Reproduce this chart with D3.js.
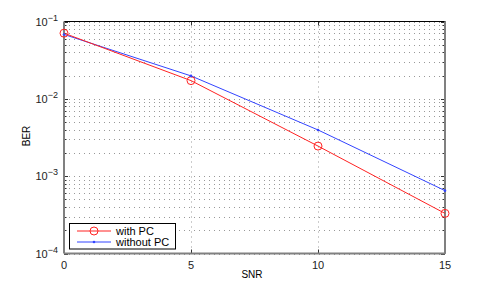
<!DOCTYPE html>
<html>
<head>
<meta charset="utf-8">
<script src="https://cdn.jsdelivr.net/npm/d3@7"></script>
<style>
  body { margin: 0; background: white; }
  text { font-family: "Liberation Sans", Arial, sans-serif; }
</style>
</head>
<body>
<div id="chart"></div>
<script>
// data
var snr = [0, 5, 10, 15];
var berWithPC = [0.0706, 0.0172, 0.00245, 0.00033];
var berWithoutPC = [0.068, 0.0198, 0.00396, 0.00065];
var xTicks = [0, 5, 10, 15];
var yExponents = [-4, -3, -2, -1];
var seriesNames = ["with PC", "without PC"];

var width = 491, height = 286;
var mLeft = 64, mRight = 445, mTop = 21.5, mBottom = 253.5;

var svg = d3.select("#chart").append("svg")
    .attr("width", width)
    .attr("height", height);

var x = d3.scaleLinear().domain([0, 15]).range([mLeft, mRight]);
var y = d3.scaleLog().domain([1e-4, 1e-1]).range([mBottom, mTop]);

// minor log grid
var minor = [];
yExponents.forEach(function(e) {
    if (e >= -1) return;
    for (var k = 1; k < 10; k++) minor.push(k * Math.pow(10, e));
});
minor.push(1e-1);

var grid = svg.append("g");
grid.selectAll("line.h")
    .data(minor)
    .enter()
    .append("line")
    .attr("class", "h")
    .attr("x1", mLeft).attr("x2", mRight)
    .attr("y1", d => Math.round(y(d)) + 0.5)
    .attr("y2", d => Math.round(y(d)) + 0.5)
    .attr("stroke", "#999")
    .attr("stroke-width", 1)
    .attr("stroke-dasharray", "1,4");

grid.selectAll("line.v")
    .data(xTicks)
    .enter()
    .append("line")
    .attr("class", "v")
    .attr("y1", mTop).attr("y2", mBottom)
    .attr("x1", d => Math.round(x(d)) + 0.5)
    .attr("x2", d => Math.round(x(d)) + 0.5)
    .attr("stroke", "#999")
    .attr("stroke-width", 1)
    .attr("stroke-dasharray", "1,4");

// tick marks inside the box
var ticks = svg.append("g").attr("stroke", "#333").attr("stroke-width", 1);
minor.forEach(function(d) {
    var yy = Math.round(y(d)) + 0.5;
    var len = (Math.abs(Math.log10(d) - Math.round(Math.log10(d))) < 1e-6) ? 4 : 2.5;
    ticks.append("line").attr("x1", mLeft).attr("x2", mLeft + len).attr("y1", yy).attr("y2", yy);
    ticks.append("line").attr("x1", mRight - len).attr("x2", mRight).attr("y1", yy).attr("y2", yy);
});
xTicks.forEach(function(d) {
    var xx = Math.round(x(d)) + 0.5;
    ticks.append("line").attr("x1", xx).attr("x2", xx).attr("y1", mBottom).attr("y2", mBottom - 4);
    ticks.append("line").attr("x1", xx).attr("x2", xx).attr("y1", mTop).attr("y2", mTop + 4);
});

// box
svg.append("line").attr("x1", mLeft).attr("x2", mRight).attr("y1", mTop).attr("y2", mTop)
    .attr("stroke", "black").attr("stroke-width", 1);
svg.append("line").attr("x1", mLeft).attr("x2", mRight).attr("y1", mBottom).attr("y2", mBottom)
    .attr("stroke", "#808080").attr("stroke-width", 2);
svg.append("line").attr("x1", mLeft).attr("x2", mLeft).attr("y1", mTop).attr("y2", mBottom)
    .attr("stroke", "#808080").attr("stroke-width", 2);
svg.append("line").attr("x1", mRight).attr("x2", mRight).attr("y1", mTop).attr("y2", mBottom)
    .attr("stroke", "#808080").attr("stroke-width", 2);

// tick labels
svg.selectAll("text.xt")
    .data(xTicks)
    .enter()
    .append("text")
    .attr("class", "xt")
    .attr("x", d => x(d))
    .attr("y", mBottom + 15)
    .attr("text-anchor", "middle")
    .attr("font-size", "11px")
    .attr("fill", "#222")
    .text(d => d);

var yl = svg.selectAll("text.yt")
    .data(yExponents)
    .enter()
    .append("text")
    .attr("class", "yt")
    .attr("x", mLeft - 6)
    .attr("y", d => y(Math.pow(10, d)) + 4)
    .attr("text-anchor", "end")
    .attr("font-size", "11px")
    .attr("fill", "#222");
yl.append("tspan").text("10");
yl.append("tspan").attr("dy", -5).attr("font-size", "9px").text(d => "\u2212" + (-d));

// axis titles
svg.append("text")
    .attr("x", 252)
    .attr("y", 278)
    .attr("text-anchor", "middle")
    .attr("font-size", "10px")
    .text("SNR");
svg.append("text")
    .attr("transform", "translate(30,136) rotate(-90)")
    .attr("text-anchor", "middle")
    .attr("font-size", "10px")
    .text("BER");

// lines
var line = d3.line().x(d => x(d[0])).y(d => y(d[1]));
var redData = snr.map((s, i) => [s, berWithPC[i]]);
var blueData = snr.map((s, i) => [s, berWithoutPC[i]]);

svg.append("path").datum(blueData).attr("d", line)
    .attr("fill", "none").attr("stroke", "#3344ff").attr("stroke-width", 1);
svg.append("path").datum(redData).attr("d", line)
    .attr("fill", "none").attr("stroke", "#ff2222").attr("stroke-width", 1);

svg.selectAll("circle.red")
    .data(redData)
    .enter()
    .append("circle")
    .attr("class", "red")
    .attr("cx", d => x(d[0])).attr("cy", d => y(d[1]))
    .attr("r", 4)
    .attr("fill", "none").attr("stroke", "#ff2222").attr("stroke-width", 1);
svg.selectAll("circle.blue")
    .data(blueData)
    .enter()
    .append("circle")
    .attr("class", "blue")
    .attr("cx", d => x(d[0])).attr("cy", d => y(d[1]))
    .attr("r", 1.3)
    .attr("fill", "#3344ff");

// legend
var lg = svg.append("g");
lg.append("rect")
    .attr("x", 69.5).attr("y", 223.5).attr("width", 106).attr("height", 25.5)
    .attr("fill", "white").attr("stroke", "black").attr("stroke-width", 1);
lg.append("line").attr("x1", 77).attr("x2", 111).attr("y1", 231).attr("y2", 231)
    .attr("stroke", "#ff2222").attr("stroke-width", 1);
lg.append("circle").attr("cx", 94).attr("cy", 231).attr("r", 4)
    .attr("fill", "none").attr("stroke", "#ff2222");
lg.append("line").attr("x1", 77).attr("x2", 111).attr("y1", 242).attr("y2", 242)
    .attr("stroke", "#3344ff").attr("stroke-width", 1);
lg.append("circle").attr("cx", 94).attr("cy", 242).attr("r", 1.3).attr("fill", "#3344ff");
lg.selectAll("text")
    .data(seriesNames)
    .enter()
    .append("text")
    .attr("x", 116)
    .attr("y", (d, i) => 235 + i * 11)
    .attr("font-size", "11px")
    .text(d => d);
</script>
</body>
</html>
